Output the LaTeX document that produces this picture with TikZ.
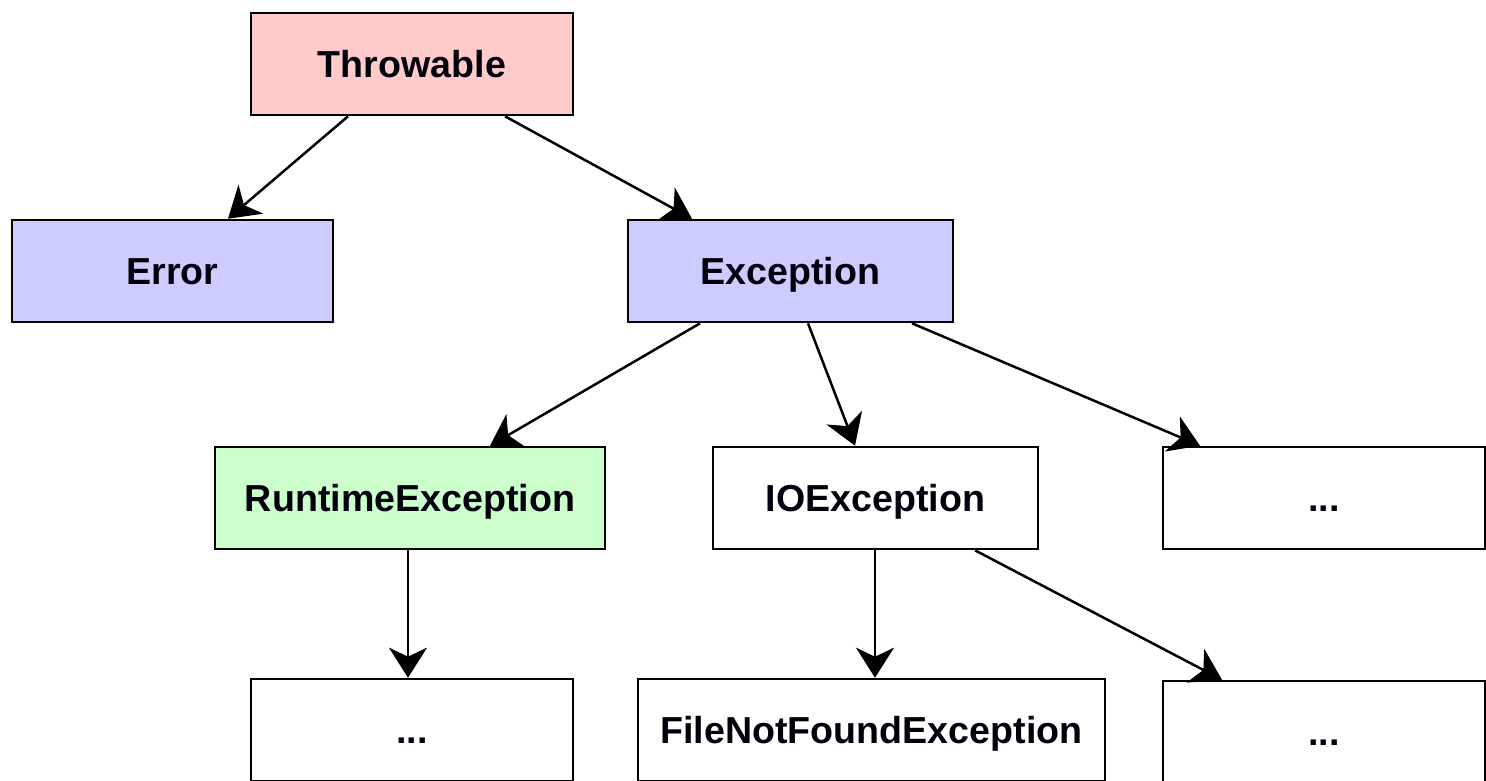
\documentclass[tikz,border=0pt]{standalone}
\usepackage{fontspec}
\setmainfont{Liberation Sans}
\usetikzlibrary{arrows.meta}
\definecolor{pinkfill}{HTML}{FFCACA}
\definecolor{bluefill}{HTML}{CCCCFF}
\definecolor{greenfill}{HTML}{CCFFCC}
\begin{document}
\begin{tikzpicture}[x=1pt,y=-1pt,
  box/.style={draw=black, line width=2.6pt, minimum height=102pt, inner sep=0pt,
    font=\fontsize{37.6}{40}\selectfont\bfseries, text=black!95!blue, text depth=0pt, text height=27pt},
  conn/.style={line width=2.5pt, -{Stealth[length=30pt,width=38pt,inset=9pt]}}]
\useasboundingbox[fill=white] (0,0) rectangle (1486,780);
\node[box, fill=pinkfill, minimum width=322pt] (thr) at (412,64) {Throwable};
\node[box, fill=bluefill, minimum width=321pt] (err) at (172.5,271) {Error};
\node[box, fill=bluefill, minimum width=325pt] (exc) at (790.5,271) {Exception};
\node[box, fill=greenfill, minimum width=390pt] (rte) at (410,498) {RuntimeException};
\node[box, fill=white, minimum width=325pt] (ioe) at (875.5,498) {IOException};
\node[box, fill=white, minimum width=322pt] (d1) at (1324,498) {...};
\node[box, fill=white, minimum width=322pt] (d2) at (412,730) {...};
\node[box, fill=white, minimum width=467pt] (fnf) at (871.5,730) {FileNotFoundException};
\node[box, fill=white, minimum width=322pt] (d3) at (1324,732) {...};
\draw[conn] ([xshift=-64pt]thr.south) -- ([xshift=55.5pt]err.north);
\draw[conn] ([xshift=93pt]thr.south) -- ([xshift=-98.5pt]exc.north);
\draw[conn] ([xshift=-90.5pt]exc.south) -- ([xshift=80pt]rte.north);
\draw[conn] ([xshift=17.5pt]exc.south) -- ([xshift=-20.5pt]ioe.north);
\draw[conn] ([xshift=121.5pt]exc.south) -- ([xshift=-124pt]d1.north);
\draw[conn] ([xshift=-2pt]rte.south) -- ([xshift=-4pt]d2.north);
\draw[conn] ([xshift=-0.5pt]ioe.south) -- ([xshift=3.5pt]fnf.north);
\draw[conn] ([xshift=99.5pt]ioe.south) -- ([xshift=-102pt]d3.north);
\end{tikzpicture}
\end{document}
